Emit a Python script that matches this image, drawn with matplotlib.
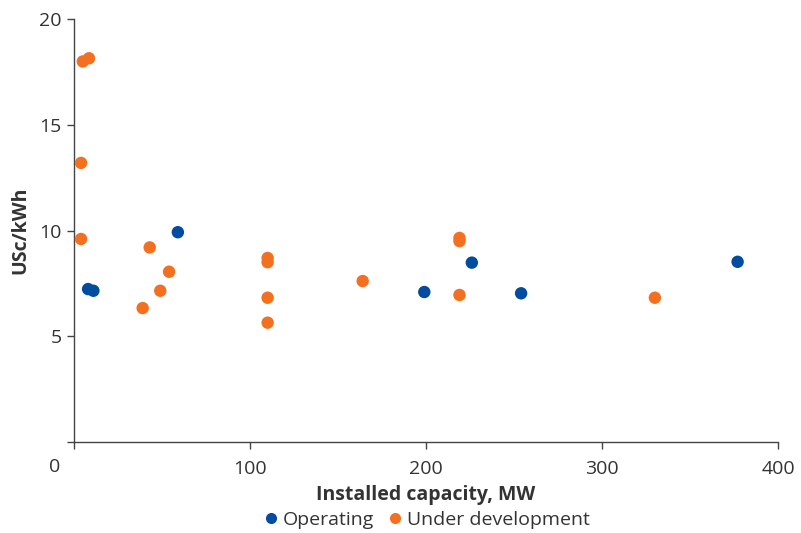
import matplotlib
matplotlib.use("Agg")
import matplotlib.pyplot as plt
from matplotlib.lines import Line2D
import matplotlib.transforms as mtransforms

plt.rcParams['font.family'] = ['Open Sans', 'DejaVu Sans']

op_x = [8, 11, 59, 199, 226, 254, 377]
op_y = [7.23, 7.15, 9.92, 7.09, 8.48, 7.03, 8.52]
dev_x = [5, 8.5, 4, 4, 43, 54, 49, 39, 110, 110, 110, 110, 164, 219, 219, 219, 330]
dev_y = [18.0, 18.15, 13.2, 9.6, 9.2, 8.05, 7.15, 6.33, 8.7, 8.5, 6.82, 5.64, 7.61, 9.65, 9.5, 6.95, 6.82]
x_ticks = [0, 100, 200, 300, 400]
y_ticks = [0, 5, 10, 15, 20]

blue = '#004DA0'
orange = '#F37021'
txt = '#333333'
spine = '#444444'

fig = plt.figure(figsize=(8.01, 5.33), dpi=100)
ax = fig.add_axes([0.0924, 0.171, 0.879, 0.793])
ax.scatter(dev_x, dev_y, s=80, color=orange, edgecolors='none', zorder=3)
ax.scatter(op_x, op_y, s=80, color=blue, edgecolors='none', zorder=3)
ax.set_xlim(0, 400)
ax.set_ylim(0, 20)
ax.set_xticks(x_ticks)
ax.set_xticklabels([''] + [str(v) for v in x_ticks[1:]])
ax.set_yticks(y_ticks)
ax.set_yticklabels([''] + [str(v) for v in y_ticks[1:]])
for s in ['top', 'right']:
    ax.spines[s].set_visible(False)
for s in ['left', 'bottom']:
    ax.spines[s].set_color(spine)
    ax.spines[s].set_linewidth(1.0)
ax.tick_params(axis='both', colors=spine, labelcolor=txt, labelsize=14, length=5, width=1.0)
ax.tick_params(axis='x', pad=8)
ax.tick_params(axis='y', pad=4)
trans = mtransforms.blended_transform_factory(ax.transData, ax.transAxes)
ax.text(-10.8, -0.06, '0', transform=trans, ha='center', va='center', fontsize=14, color=txt)

ax.set_xlabel('Installed capacity, MW', fontsize=14, fontweight='bold', color=txt, labelpad=5)
ax.set_ylabel('USc/kWh', fontsize=14, fontweight='bold', color=txt, labelpad=6)

handles = [Line2D([], [], marker='o', linestyle='none', color=blue, markersize=8, markeredgewidth=0),
           Line2D([], [], marker='o', linestyle='none', color=orange, markersize=8, markeredgewidth=0)]
fig.legend(handles, ['Operating', 'Under development'], loc='center', bbox_to_anchor=(0.531, 0.024),
           ncol=2, frameon=False, fontsize=14, handletextpad=0.1, columnspacing=0.6,
           handlelength=1.0, labelcolor=txt)

fig.savefig('out.png', dpi=100)
